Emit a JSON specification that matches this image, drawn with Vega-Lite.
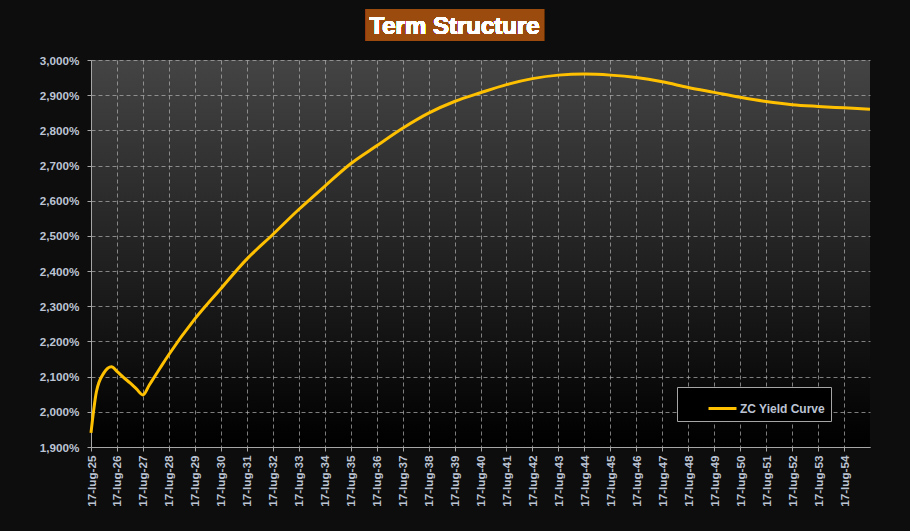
{
  "$schema": "https://vega.github.io/schema/vega-lite/v6.json",
  "autosize": "none",
  "width": 779,
  "height": 387,
  "padding": {"left": 91, "top": 60, "right": 40, "bottom": 84},
  "background": "#0d0d0d",
  "view": {
    "stroke": null,
    "fill": {
      "gradient": "linear",
      "x1": 0, "y1": 0, "x2": 0, "y2": 1,
      "stops": [
        {"offset": 0, "color": "#444444"},
        {"offset": 0.95, "color": "#030303"},
        {"offset": 1, "color": "#000000"}
      ]
    }
  },
  "config": {
    "font": "Liberation Sans",
    "axis": {"labelOverlap": false, "labelSeparation": 0}
  },
  "data": {
    "values": [
      {"date": "2025-07-17", "rate": 1.940},
      {"date": "2025-10-01", "rate": 2.057},
      {"date": "2026-01-12", "rate": 2.110},
      {"date": "2026-05-01", "rate": 2.128},
      {"date": "2026-07-17", "rate": 2.115},
      {"date": "2026-10-17", "rate": 2.098},
      {"date": "2027-01-17", "rate": 2.082},
      {"date": "2027-04-17", "rate": 2.065},
      {"date": "2027-07-17", "rate": 2.048},
      {"date": "2027-10-17", "rate": 2.077},
      {"date": "2028-01-17", "rate": 2.106},
      {"date": "2028-04-17", "rate": 2.135},
      {"date": "2028-07-17", "rate": 2.163},
      {"date": "2029-07-17", "rate": 2.264},
      {"date": "2030-07-17", "rate": 2.350},
      {"date": "2031-07-17", "rate": 2.434},
      {"date": "2032-07-17", "rate": 2.504},
      {"date": "2033-07-17", "rate": 2.575},
      {"date": "2034-07-17", "rate": 2.641},
      {"date": "2035-07-17", "rate": 2.705},
      {"date": "2036-07-17", "rate": 2.756},
      {"date": "2037-07-17", "rate": 2.806},
      {"date": "2038-07-17", "rate": 2.849},
      {"date": "2039-07-17", "rate": 2.882},
      {"date": "2040-07-17", "rate": 2.907},
      {"date": "2041-07-17", "rate": 2.930},
      {"date": "2042-07-17", "rate": 2.947},
      {"date": "2043-07-17", "rate": 2.957},
      {"date": "2044-07-17", "rate": 2.960},
      {"date": "2045-07-17", "rate": 2.957},
      {"date": "2046-07-17", "rate": 2.950},
      {"date": "2047-07-17", "rate": 2.938},
      {"date": "2048-07-17", "rate": 2.922},
      {"date": "2049-07-17", "rate": 2.908},
      {"date": "2050-07-17", "rate": 2.894},
      {"date": "2051-07-17", "rate": 2.882},
      {"date": "2052-07-17", "rate": 2.873},
      {"date": "2053-07-17", "rate": 2.868},
      {"date": "2054-07-17", "rate": 2.864},
      {"date": "2055-07-17", "rate": 2.860}
    ]
  },
  "layer": [
    {
      "mark": {"type": "line", "strokeWidth": 3, "interpolate": "monotone"},
      "encoding": {
        "x": {
          "field": "date",
          "type": "temporal",
          "scale": {
            "type": "utc",
            "domain": [
              {"year": 2025, "month": 7, "date": 17, "utc": true},
              {"year": 2055, "month": 7, "date": 17, "utc": true}
            ]
          },
          "axis": {
            "title": null,
            "format": "%d-lug-%y",
            "tickCount": 100,
            "values": [
              {"year": 2025, "month": 7, "date": 17, "utc": true},
              {"year": 2026, "month": 7, "date": 17, "utc": true},
              {"year": 2027, "month": 7, "date": 17, "utc": true},
              {"year": 2028, "month": 7, "date": 17, "utc": true},
              {"year": 2029, "month": 7, "date": 17, "utc": true},
              {"year": 2030, "month": 7, "date": 17, "utc": true},
              {"year": 2031, "month": 7, "date": 17, "utc": true},
              {"year": 2032, "month": 7, "date": 17, "utc": true},
              {"year": 2033, "month": 7, "date": 17, "utc": true},
              {"year": 2034, "month": 7, "date": 17, "utc": true},
              {"year": 2035, "month": 7, "date": 17, "utc": true},
              {"year": 2036, "month": 7, "date": 17, "utc": true},
              {"year": 2037, "month": 7, "date": 17, "utc": true},
              {"year": 2038, "month": 7, "date": 17, "utc": true},
              {"year": 2039, "month": 7, "date": 17, "utc": true},
              {"year": 2040, "month": 7, "date": 17, "utc": true},
              {"year": 2041, "month": 7, "date": 17, "utc": true},
              {"year": 2042, "month": 7, "date": 17, "utc": true},
              {"year": 2043, "month": 7, "date": 17, "utc": true},
              {"year": 2044, "month": 7, "date": 17, "utc": true},
              {"year": 2045, "month": 7, "date": 17, "utc": true},
              {"year": 2046, "month": 7, "date": 17, "utc": true},
              {"year": 2047, "month": 7, "date": 17, "utc": true},
              {"year": 2048, "month": 7, "date": 17, "utc": true},
              {"year": 2049, "month": 7, "date": 17, "utc": true},
              {"year": 2050, "month": 7, "date": 17, "utc": true},
              {"year": 2051, "month": 7, "date": 17, "utc": true},
              {"year": 2052, "month": 7, "date": 17, "utc": true},
              {"year": 2053, "month": 7, "date": 17, "utc": true},
              {"year": 2054, "month": 7, "date": 17, "utc": true}
            ],
            "labelAngle": 270,
            "labelAlign": "right",
            "labelBaseline": "middle",
            "labelColor": "#bcc4d4",
            "labelFontSize": 11.7,
            "labelFontWeight": "bold",
            "labelPadding": 4,
            "labelOverlap": false,
            "labelSeparation": 0,
            "labelFlush": false,
            "labelBound": false,
            "tickColor": "#a6a6a6",
            "tickSize": 4,
            "domainColor": "#a6a6a6",
            "gridColor": "#b0b0b0",
            "gridOpacity": 0.7,
            "gridDash": [4, 3]
          }
        },
        "y": {
          "field": "rate",
          "type": "quantitative",
          "scale": {"domain": [1.9, 3.0], "nice": false, "zero": false},
          "axis": {
            "title": null,
            "tickCount": 100,
            "values": [1.9, 2.0, 2.1, 2.2, 2.3, 2.4, 2.5, 2.6, 2.7, 2.8, 2.9, 3.0],
            "labelExpr": "replace(format(datum.value, '.3f'), '.', ',') + '%'",
            "labelColor": "#bcc4d4",
            "labelFontSize": 11.7,
            "labelFontWeight": "bold",
            "labelPadding": 8,
            "labelOverlap": false,
            "labelSeparation": 0,
            "labelFlush": false,
            "labelBound": false,
            "tickColor": "#a6a6a6",
            "tickSize": 4,
            "domainColor": "#a6a6a6",
            "gridColor": "#b0b0b0",
            "gridOpacity": 0.7,
            "gridDash": [4, 3]
          }
        },
        "color": {
          "datum": "ZC Yield Curve",
          "scale": {"range": ["#FFC000"]},
          "legend": {
            "title": null,
            "orient": "none",
            "legendX": 586,
            "legendY": 327,
            "fillColor": "#000000",
            "strokeColor": "#a6a6a6",
            "padding": 6,
            "symbolType": "stroke",
            "symbolSize": 784,
            "symbolStrokeWidth": 3,
            "symbolOffset": 24,
            "labelOffset": 2,
            "labelColor": "#bcc4d4",
            "labelFontSize": 12,
            "labelFontWeight": "bold"
          }
        }
      }
    },
    {
      "mark": {"type": "rect", "color": "#9c4b0e"},
      "encoding": {
        "x": {"datum": {"year": 2036, "month": 2, "date": 17, "utc": true}, "type": "temporal"},
        "x2": {"datum": {"year": 2042, "month": 12, "date": 27, "utc": true}},
        "y": {"datum": 3.145, "type": "quantitative"},
        "y2": {"datum": 3.054}
      }
    },
    {
      "mark": {
        "type": "text",
        "text": "Term Structure",
        "fontSize": 24,
        "fontWeight": "bold",
        "color": "#ffffff",
        "align": "center",
        "baseline": "alphabetic"
      },
      "encoding": {
        "x": {"datum": {"year": 2039, "month": 7, "date": 17, "utc": true}, "type": "temporal"},
        "y": {"datum": 3.0753, "type": "quantitative"}
      }
    }
  ]
}
